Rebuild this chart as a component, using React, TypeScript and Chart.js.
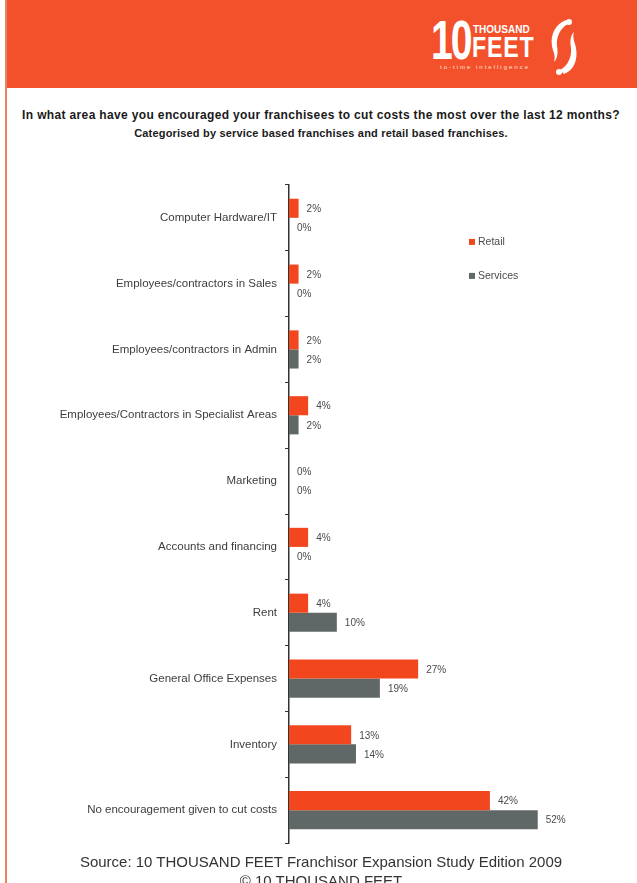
import React, { useEffect, useRef } from "react";
import { Chart, registerables } from "chart.js";

Chart.register(...registerables);

const categories = [
  "Computer Hardware/IT",
  "Employees/contractors in Sales",
  "Employees/contractors in Admin",
  "Employees/Contractors in Specialist Areas",
  "Marketing",
  "Accounts and financing",
  "Rent",
  "General Office Expenses",
  "Inventory",
  "No encouragement given to cut costs",
];
const retailValues = [2, 2, 2, 4, 0, 4, 4, 27, 13, 42];
const servicesValues = [0, 0, 2, 2, 0, 0, 10, 19, 14, 52];
const seriesNames = ["Retail", "Services"];
const seriesColors = ["#f2461f", "#5f6866"];
const axisMax = 60;

const titleLines = [
  "In what area have you encouraged your franchisees to cut costs the most over the last 12 months?",
  "Categorised by service based franchises and retail based franchises.",
];
const sourceLines = [
  "Source: 10 THOUSAND FEET Franchisor Expansion Study Edition 2009",
  "© 10 THOUSAND FEET",
];

const FONT = "'Liberation Sans', Arial, sans-serif";

const valueLabelPlugin = {
  id: "valueLabels",
  afterDatasetsDraw(chart: any) {
    const ctx = chart.ctx;
    ctx.save();
    ctx.font = `10px ${FONT}`;
    ctx.fillStyle = "#4a4a4a";
    ctx.textBaseline = "middle";
    chart.data.datasets.forEach((ds: any, i: number) => {
      chart.getDatasetMeta(i).data.forEach((bar: any, j: number) => {
        ctx.fillText(ds.data[j] + "%", bar.x + 8, bar.y + 1);
      });
    });
    ctx.restore();
  },
};

const legendPlugin = {
  id: "sideLegend",
  afterDraw(chart: any) {
    const ctx = chart.ctx;
    const left = chart.chartArea.left + 180;
    const top = chart.chartArea.top + 57;
    ctx.save();
    ctx.font = `10.5px ${FONT}`;
    ctx.textBaseline = "middle";
    chart.data.datasets.forEach((ds: any, i: number) => {
      const y = top + i * 34;
      ctx.fillStyle = ds.backgroundColor;
      ctx.fillRect(left, y - 3, 6, 6);
      ctx.fillStyle = "#4a4a4a";
      ctx.fillText(ds.label, left + 9, y);
    });
    ctx.restore();
  },
};

function BarChart() {
  const ref = useRef<HTMLCanvasElement | null>(null);
  useEffect(() => {
    if (!ref.current) return;
    const chart = new Chart(ref.current, {
      type: "bar",
      data: {
        labels: categories,
        datasets: [
          {
            label: seriesNames[0],
            data: retailValues,
            backgroundColor: seriesColors[0],
            categoryPercentage: 0.58,
            barPercentage: 1,
          },
          {
            label: seriesNames[1],
            data: servicesValues,
            backgroundColor: seriesColors[1],
            categoryPercentage: 0.58,
            barPercentage: 1,
          },
        ],
      },
      options: {
        indexAxis: "y",
        responsive: false,
        animation: false,
        layout: { padding: { top: 13, bottom: 0, left: 0, right: 61 } },
        plugins: {
          legend: { display: false },
          tooltip: { enabled: false },
        },
        scales: {
          x: { display: false, min: 0, max: axisMax },
          y: {
            afterFit: (scale: any) => {
              scale.width = 289;
            },
            grid: {
              drawOnChartArea: false,
              drawTicks: true,
              tickLength: 4,
              color: "#333",
              lineWidth: 1,
            },
            border: { display: true, color: "#333", width: 1.5 },
            ticks: {
              padding: 8,
              color: "#3d3d3d",
              font: { family: FONT, size: 11.5 },
            },
          },
        },
      },
      plugins: [valueLabelPlugin, legendPlugin],
    } as any);
    return () => chart.destroy();
  }, []);
  return (
    <canvas
      ref={ref}
      width={637}
      height={688}
      style={{ position: "absolute", left: 0, top: 170, width: 637, height: 688 }}
    />
  );
}

function Logo() {
  return (
    <div style={{ position: "absolute", left: 0, top: 0, width: 637, height: 88 }}>
      <div
        style={{
          position: "absolute",
          left: 431,
          top: 12,
          color: "#fff",
          font: `bold 56px ${FONT}`,
          lineHeight: "56px",
          letterSpacing: -3,
          transform: "scaleX(0.7)",
          transformOrigin: "0 0",
        }}
      >
        10
      </div>
      <div
        style={{
          position: "absolute",
          left: 473,
          top: 25,
          color: "#fff",
          font: `bold 10px ${FONT}`,
          lineHeight: "10px",
        }}
      >
        THOUSAND
      </div>
      <div
        style={{
          position: "absolute",
          left: 472,
          top: 33,
          color: "#fff",
          font: `bold 29px ${FONT}`,
          lineHeight: "29px",
          letterSpacing: 1,
          transform: "scaleX(0.8)",
          transformOrigin: "0 0",
        }}
      >
        FEET
      </div>
      <div
        style={{
          position: "absolute",
          left: 440,
          top: 64,
          color: "#ffe3d8",
          font: `6px ${FONT}`,
          lineHeight: "7px",
          letterSpacing: 2,
        }}
      >
        to-time intelligence
      </div>
      <svg
        style={{ position: "absolute", left: 542, top: 16 }}
        width={42}
        height={62}
        viewBox="0 0 42 62"
      >
        <path
          d="M24 4 C14 8 8 18 10 30 C11 36 14 40 12 46 C16 42 16 36 15 30 C14 22 18 12 26 8 Z"
          fill="#fff"
        />
        <path
          d="M22 58 C32 54 36 44 34 32 C33 26 30 22 32 16 C28 20 28 26 29 32 C30 40 26 50 18 54 Z"
          fill="#fff"
        />
        <circle cx="27" cy="6" r="3" fill="#fff" />
        <circle cx="17" cy="56" r="3" fill="#fff" />
      </svg>
    </div>
  );
}

export default function App() {
  useEffect(() => {
    document.body.style.margin = "0";
  }, []);
  return (
    <div
      style={{
        position: "relative",
        width: 637,
        height: 883,
        overflow: "hidden",
        background: "#fff",
        fontFamily: FONT,
      }}
    >
      <div
        style={{
          position: "absolute",
          left: 5,
          top: 0,
          width: 632,
          height: 88,
          background: "#f3512b",
        }}
      />
      <div
        style={{
          position: "absolute",
          left: 5,
          top: 0,
          width: 2,
          height: 883,
          background: "#e9825f",
        }}
      />
      <Logo />
      <div
        style={{
          position: "absolute",
          left: 5,
          top: 106,
          width: 632,
          textAlign: "center",
          fontWeight: "bold",
          lineHeight: "18px",
          color: "#1a1a1a",
        }}
      >
        <div style={{ fontSize: 12, letterSpacing: 0.35 }}>{titleLines[0]}</div>
        <div style={{ fontSize: 11, letterSpacing: 0.18 }}>{titleLines[1]}</div>
      </div>
      <BarChart />
      <div
        style={{
          position: "absolute",
          left: 5,
          top: 852,
          width: 632,
          textAlign: "center",
          font: `15px ${FONT}`,
          lineHeight: "19px",
          color: "#333",
        }}
      >
        {sourceLines.map((t) => (
          <div key={t}>{t}</div>
        ))}
      </div>
    </div>
  );
}
